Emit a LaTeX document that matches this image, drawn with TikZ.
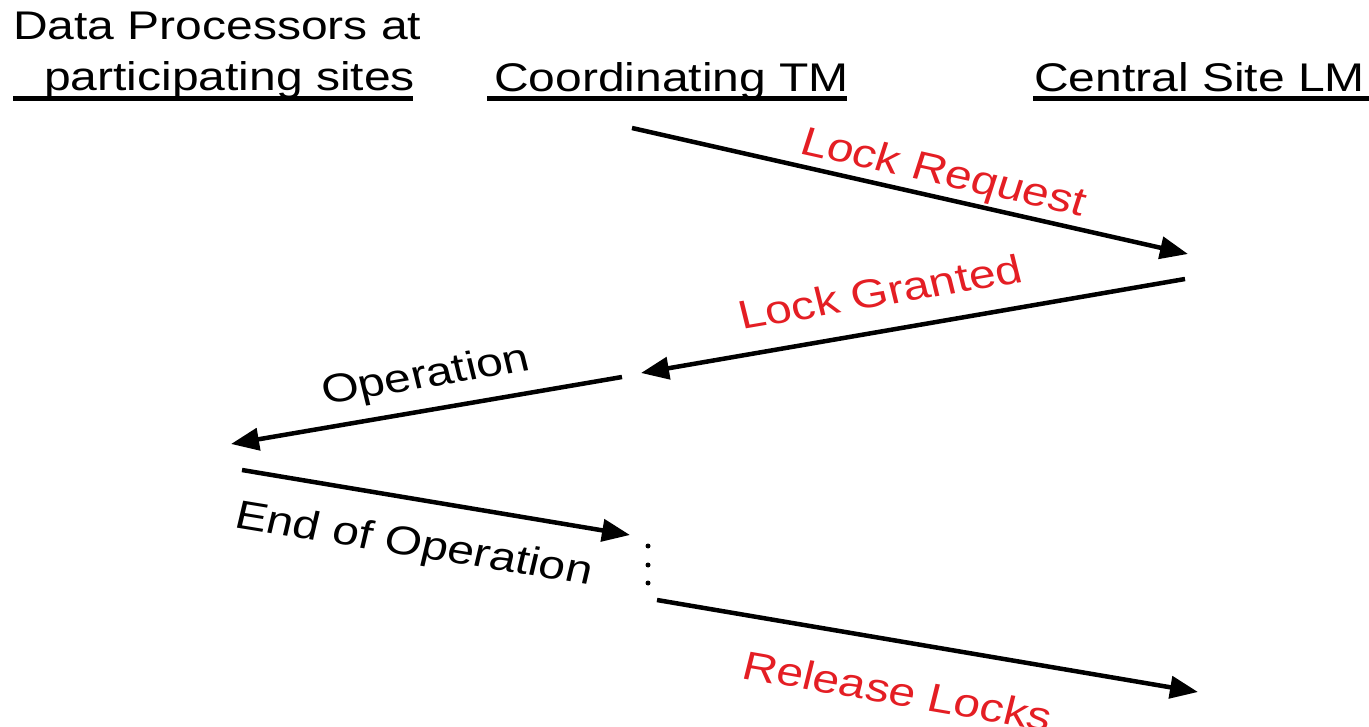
\documentclass[tikz,border=0pt]{standalone}
\usepackage{fontspec}
\setmainfont{Liberation Sans}
\usetikzlibrary{arrows.meta}
\definecolor{labelred}{RGB}{228,30,36}
\tikzset{
  hdr/.style={anchor=base west, inner sep=0pt, xscale=1.2, font=\fontsize{40}{48}\selectfont},
  lbl/.style={anchor=base west, inner sep=0pt, xscale=1.2, font=\fontsize{40}{48}\selectfont},
  redlbl/.style={lbl, text=labelred},
  uline/.style={line width=5pt},
  msg/.style={line width=4.5pt, -{Triangle[length=28pt,width=22pt]}},
  dotmark/.style={circle, fill=black, inner sep=0pt, minimum size=5pt}
}
\begin{document}
\begin{tikzpicture}[x=1pt,y=-1pt]
\useasboundingbox (0,0) rectangle (1369,727);
% headers
\node[hdr] (dp1) at (13,40) {Data Processors at};
\node[hdr] (dp2) at (44,91) {participating sites};
\node[hdr] (ctm) at (494,92) {Coordinating TM};
\node[hdr] (clm) at (1034,92) {Central Site LM};
\coordinate (u1a) at (13,99);   \coordinate (u1b) at (413,99);
\coordinate (u2a) at (487,99);  \coordinate (u2b) at (847,99);
\coordinate (u3a) at (1033,99); \coordinate (u3b) at (1369,99);
\draw[uline] (u1a) -- (u1b);
\draw[uline] (u2a) -- (u2b);
\draw[uline] (u3a) -- (u3b);
% message end points
\coordinate (a1s) at (632,128);  \coordinate (a1e) at (1188,254);
\coordinate (a2s) at (1185,279); \coordinate (a2e) at (641,373);
\coordinate (a3s) at (622,377);  \coordinate (a3e) at (231,444);
\coordinate (a4s) at (242,470);  \coordinate (a4e) at (630,535);
\coordinate (a5s) at (657,600);  \coordinate (a5e) at (1198,692);
\draw[msg] (a1s) -- (a1e);
\draw[msg] (a2s) -- (a2e);
\draw[msg] (a3s) -- (a3e);
\draw[msg] (a4s) -- (a4e);
\draw[msg] (a5s) -- (a5e);
% dots
\node[dotmark] (d1) at (648,546) {};
\node[dotmark] (d2) at (648,565) {};
\node[dotmark] (d3) at (648,583) {};
% labels
\node[redlbl, rotate=-15.0] (lreq) at (798,153) {Lock Request};
\node[redlbl, rotate=11.6] (lgr) at (742,330) {Lock Granted};
\node[lbl, rotate=11.5] (lop) at (325,405) {Operation};
\node[lbl, rotate=-11.1] (leo) at (233,527) {End of Operation};
\node[redlbl, rotate=-11.7] (lrel) at (740,678) {Release Locks};
\end{tikzpicture}
\end{document}
